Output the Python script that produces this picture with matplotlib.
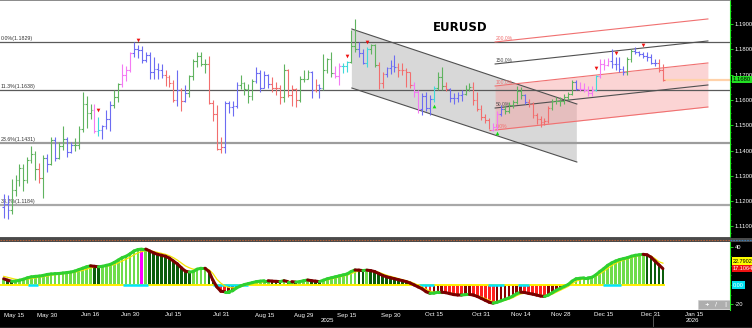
import numpy as np
import pandas as pd
import matplotlib
matplotlib.use("Agg")
import matplotlib.pyplot as plt
from matplotlib.collections import LineCollection
from matplotlib.patches import Polygon, Rectangle
from matplotlib.lines import Line2D
import matplotlib.transforms as mtrans
from matplotlib import font_manager

plt.rcParams['font.family'] = ['DejaVu Sans']
_names = {f.name for f in font_manager.fontManager.ttflist}
NARROW = "Liberation Sans Narrow" if "Liberation Sans Narrow" in _names else "Liberation Sans"

# ---------------- data ----------------
dates = pd.bdate_range("2025-05-15", "2026-01-05")

# prices in pips above 1.1000
opens = [178,187,163,243,284,330,283,364,386,326,
         290,370,347,443,372,418,447,396,420,423,
         487,585,550,562,478,480,495,523,580,610,
         663,700,718,787,803,797,758,777,709,723,
         719,700,689,667,598,639,596,626,693,754,
         772,740,740,588,545,406,415,587,572,574,
         660,666,643,615,675,705,648,700,662,649,
         648,610,718,621,643,599,682,684,710,641,
         660,646,719,760,707,696,733,734,748,812,
         802,785,745,803,817,738,665,703,727,733,
         729,717,718,711,658,630,565,617,569,604,
         646,690,655,643,606,609,618,624,644,653,
         601,565,534,520,481,493,546,564,558,581,
         590,634,620,593,582,539,525,512,518,569,
         596,597,597,610,625,670,645,643,640,627,
         640,694,740,739,752,743,740,723,709,760,
         792,790,780,772,771,745,746,718]
highs = [230,226,287,302,346,346,375,419,397,350,
         384,385,454,455,434,496,452,433,448,497,
         631,614,582,584,532,499,562,596,641,668,
         742,733,789,829,817,815,790,789,768,745,
         741,718,697,680,720,646,660,700,760,788,
         789,762,772,600,580,455,597,597,596,672,
         699,672,662,683,730,718,716,703,692,669,
         658,742,722,660,646,696,717,720,714,684,
         662,781,764,790,736,745,747,755,878,918,
         830,800,810,820,820,748,710,732,756,779,
         744,745,728,712,669,639,628,630,618,655,
         710,729,672,648,626,630,639,658,668,670,
         630,580,545,530,510,555,580,580,590,600,
         655,653,625,605,590,550,537,530,575,605,
         610,610,625,630,680,680,670,665,655,655,
         700,763,760,766,800,770,770,733,768,800,
         808,795,790,790,780,760,760,740]
lows = [133,130,150,220,260,241,273,349,283,273,
        212,317,344,358,365,403,374,389,400,407,
        472,489,525,470,459,445,484,476,569,592,
        653,674,709,770,764,746,750,683,683,683,
        686,656,650,592,577,556,590,610,680,730,
        735,707,583,518,401,391,391,550,535,568,
        643,621,589,600,668,630,648,649,630,618,
        583,593,612,574,573,593,670,682,607,630,
        608,640,706,690,688,660,708,712,745,790,
        770,740,730,780,730,645,646,692,704,710,
        690,700,650,646,610,550,541,555,542,590,
        640,640,635,590,585,590,596,620,635,580,
        555,520,510,485,478,482,535,545,548,570,
        585,605,585,572,530,505,491,500,510,560,
        585,575,585,600,618,640,635,632,614,615,
        635,685,720,735,725,720,712,700,700,750,
        780,775,765,755,740,735,710,675]
closes = [187,163,243,284,330,283,364,386,326,290,
          370,347,443,372,418,447,396,420,423,487,
          585,550,562,478,480,495,523,580,610,663,
          700,718,787,803,797,758,777,709,723,719,
          700,689,667,598,639,596,626,693,754,772,
          740,740,588,545,406,415,587,572,574,660,
          666,643,615,675,705,648,700,662,649,648,
          610,718,621,643,599,682,684,710,641,660,
          646,719,760,707,696,733,734,748,812,802,
          785,745,803,817,738,665,703,727,733,729,
          717,718,711,658,630,565,617,569,604,646,
          690,655,643,606,609,618,624,644,653,601,
          565,534,520,481,493,546,564,558,581,590,
          634,620,593,582,539,525,512,518,569,596,
          597,597,610,625,670,645,643,640,627,640,
          694,740,739,752,743,740,723,709,760,792,
          790,780,772,771,745,746,718,680]
bar_codes = ("bbgggggggr" "gbgbggbbgg" "gggmcbbbgg" "mmmbbbbbbb"
             "brrrbrbggg" "ggrrrrbbbb" "ggggbbbbrr" "rgrrrgggbr"
             "bgggmmccgg" "bbcggrrbbb" "rrrrmmbbbc" "ggrbbbbggr"
             "rrrrmmbggg" "ggbrrrrrrg" "gggggbmmmm" "cmmmbbbbgg"
             "bbbbbbrr")

sig_down_idx = [24, 34, 87, 92, 150, 155, 162]
sig_down_price = [1.1560, 1.1835, 1.1774, 1.1829, 1.1726, 1.1785, 1.1817]
sig_up_idx = [109, 125]
sig_up_price = [1.1576, 1.1469]

fib_levels = [1.1829, 1.1638, 1.1431, 1.1184]
fib_labels = ["0.0%(1.1829)", "11.3%(1.1638)", "23.6%(1.1431)", "38.2%(1.1184)"]

dch_x = [88.2, 145.2]
dch_top = [1.18802, 1.15838]
dch_bot = [1.16470, 1.13545]

fch_x = [124.5, 178.4]
fch_base = [1.1481, 1.1572]
fch_step = 0.0174
fch_ratios = [0.0, 0.5, 1.0, 1.5, 2.0]
fch_labels = ["0.0%", "50.0%", "100.0%", "150.0%", "200.0%"]

last_price = 1.1680

ind_main = [6.5,5,3.8,4,5,6,7.5,8.5,9,9.3,
            10,11,11.5,11.8,12,12.5,13,13.5,14.5,16,
            17.5,19,20,19.5,19,19.5,20.5,21.5,23.5,26,
            28.5,30,32.5,35.5,37,37.5,37.5,35.5,33.5,32,
            31,30,28,25,22,18,14.5,13.5,14,16.5,
            17.5,17.5,14,5,-2,-6.5,-7,-7,-6,-3,
            -1,0.5,1.5,2.5,3.5,4,4.5,4.5,4,3.8,
            3.5,4.5,3.5,3.5,3,3.5,4.5,5.2,4.5,4,
            3.5,5,6.5,7.5,8.5,9.5,10.5,11.5,14,15.7,
            15.5,15,15.5,15,14,12,10,8.5,7.5,6.5,
            5.5,4.5,3.5,2,0,-2,-4,-7,-8.7,-8.5,
            -7.5,-7.5,-8,-9,-10,-10.4,-10.5,-10,-9.8,-10.5,
            -12,-14,-16,-18,-19,-18,-16.5,-15,-13.5,-11.5,
            -9,-7.5,-7.8,-8.8,-9.5,-10.5,-11.5,-12,-10.5,-8,
            -5.5,-3.5,-1.5,0.5,4,6.5,7,7.5,7.5,8,
            10.5,14,17,20.5,23,25,26.5,27.5,28.5,30,
            31,31.5,32,31.5,29,25,21,17.1064]
ind_signal = [9,8,7,6,5.5,5.5,6,6.8,7.5,8,
              8.7,9.5,10.2,10.8,11.2,11.7,12.2,12.7,13.3,14.2,
              15.3,16.6,17.8,18.5,18.8,19,19.5,20.2,21.3,23,
              25,27,29,31.5,33.5,35,36,36,35,34,
              33,32,30.5,28.5,26,23,20,18,16.5,16.5,
              17,17,16,12,6,2,-1,-2.5,-3,-2.5,
              -1.5,-0.5,0.3,1.2,2,2.8,3.3,3.7,3.8,3.8,
              3.7,3.9,3.8,3.7,3.4,3.4,3.8,4.3,4.4,4.2,
              3.9,4.3,5.2,6.2,7.2,8.2,9.2,10.2,11.8,13.5,
              14.5,14.8,15,15,14.5,13.3,11.8,10.2,9,7.8,
              6.7,5.6,4.6,3.3,1.7,-0.2,-2.2,-4.5,-6.5,-7.5,
              -7.6,-7.5,-7.7,-8.3,-9.1,-9.8,-10.2,-10.1,-10,-10.2,
              -11,-12.5,-14.2,-16,-17.5,-17.7,-17.1,-16,-14.8,-13.2,
              -11,-9.3,-8.5,-8.6,-9,-9.8,-10.6,-11.3,-10.9,-9.5,
              -7.5,-5.5,-3.5,-1.5,1.3,3.9,5.4,6.4,7,7.5,
              9,11.5,14.3,17.4,20.2,22.6,24.5,26,27.2,28.6,
              29.8,30.6,31.3,31.4,30.2,27.6,24.3,22.7902]
cyan_start = [6.2, 30.2, 53.0, 105.2, 122.7, 130.3, 151.8]
cyan_end = [8.7, 36.6, 62.0, 109.0, 126.7, 133.1, 156.4]
magenta_bar = 35

tick_labels = ["May 15", "May 30", "Jun 16", "Jun 30", "Jul 15", "Jul 31",
               "Aug 15", "Aug 29", "Sep 15", "Sep 30", "Oct 15", "Oct 31",
               "Nov 14", "Nov 28", "Dec 15", "Dec 31", "Jan 15"]
tick_dates = ["2025-05-15", "2025-05-30", "2025-06-16", "2025-06-30", "2025-07-15",
              "2025-07-31", "2025-08-15", "2025-08-29", "2025-09-15", "2025-09-30",
              "2025-10-15", "2025-10-31", "2025-11-14", "2025-11-28", "2025-12-15",
              "2025-12-31", "2026-01-15"]

# ---------------- figure ----------------
W, H = 752, 328
def fy(py):
    return 1 - py / H

fig = plt.figure(figsize=(W / 100, H / 100), dpi=100, facecolor="black")
ax = fig.add_axes([0, fy(238), 730 / W, 238 / H])
ax2 = fig.add_axes([0, fy(310), 730 / W, 68 / H])
for a in (ax, ax2):
    a.set_facecolor("white")
    a.set_xlim(-0.937, 184.0)
ax.set_ylim(1.10542, 1.19949)
ax2.set_ylim(-26.1, 44.9)

x = np.arange(len(closes))
o = 1.1 + np.array(opens) / 1e4
h = 1.1 + np.array(highs) / 1e4
l = 1.1 + np.array(lows) / 1e4
c = 1.1 + np.array(closes) / 1e4

# fib horizontals
fib_styles = [("#5a5a5a", 0.9), ("#5a5a5a", 0.9), ("#9c9c9c", 1.6), ("#a8a8a8", 1.6)]
for lev, lab, (col, lw) in zip(fib_levels, fib_labels, fib_styles):
    ax.axhline(lev, color=col, lw=lw, zorder=1)
    ax.text(0.6 / 730, lev + 0.0004, lab,
            transform=mtrans.blended_transform_factory(ax.transAxes, ax.transData),
            fontsize=3.8, family=NARROW, color="#333333", ha="left", va="bottom", zorder=2)

# descending gray channel
poly = Polygon([(dch_x[0], dch_top[0]), (dch_x[1], dch_top[1]),
                (dch_x[1], dch_bot[1]), (dch_x[0], dch_bot[0])],
               closed=True, facecolor="#d8d8d8", edgecolor="none", zorder=0.5)
ax.add_patch(poly)
ax.plot(dch_x, dch_top, color="#505050", lw=0.8, zorder=1.5)
ax.plot(dch_x, dch_bot, color="#505050", lw=0.8, zorder=1.5)

# fib channel
fch_x = np.array(fch_x)
fch_base = np.array(fch_base)
ax.fill_between(fch_x, fch_base, fch_base + fch_step, color="#f7a0a0", alpha=0.45,
                lw=0, zorder=0.6)
for r, lab in zip(fch_ratios, fch_labels):
    col = "#f07070" if r in (0.0, 1.0, 2.0) else "#505050"
    yv = fch_base + r * fch_step
    ax.plot(fch_x, yv, color=col, lw=0.8, zorder=1.6)
    ax.text(fch_x[0] + 0.1, yv[0] + 0.0004, lab, fontsize=3.6, family=NARROW, color=col,
            ha="left", va="bottom", zorder=2)

# last price line
ax.plot([x[-1] + 0.4, 184.0], [last_price, last_price], color="#ffd2aa", lw=1.6, zorder=1.7)

# OHLC bars
cmap = {"g": "#5fb35f", "r": "#f26e6e", "b": "#6c6cf2", "m": "#f47af4", "c": "#3fd9d9"}
cols = [cmap[k] for k in bar_codes]
ax.vlines(x, l, h, colors=cols, lw=0.8, zorder=3)
ax.hlines(o, x - 0.45, x, colors=cols, lw=0.8, zorder=3)
ax.hlines(c, x, x + 0.45, colors=cols, lw=0.8, zorder=3)

ax.scatter(sig_down_idx, sig_down_price, marker="v", s=7, color="#ee1111", lw=0, zorder=4)
ax.scatter(sig_up_idx, sig_up_price, marker="^", s=7, color="#11dd11", lw=0, zorder=4)

ax.text(460 / 730, 1 - 27.5 / 238, "EURUSD", transform=ax.transAxes, fontsize=8.5,
        fontweight="bold", color="black", ha="center", va="center")

# axes styling main
ax.set_xticks([])
ax.yaxis.tick_right()
yt = np.round(np.arange(1.11, 1.19001, 0.01), 2)
ax.set_yticks(yt)
ax.set_yticklabels([f"{v:.4f}" for v in yt], family=NARROW)
ax.set_yticks(np.arange(1.1075, 1.1990, 0.0025), minor=True)
ax.tick_params(axis="y", which="major", colors="#22ee22", labelcolor="white",
               labelsize=4.2, length=2, width=0.6, pad=1.5)
ax.tick_params(axis="y", which="minor", colors="#22ee22", length=1, width=0.5)
ax.spines["left"].set_visible(False)
ax.spines["right"].set_color("#22ee22")
ax.spines["right"].set_linewidth(0.8)
ax.spines["top"].set_color("#777777")
ax.spines["top"].set_linewidth(1.2)
ax.spines["bottom"].set_color("#333333")
ax.spines["bottom"].set_linewidth(1.2)

blend_y = mtrans.blended_transform_factory(ax.transAxes, ax.transData)
ax.text(1.004, last_price, "1.1680", transform=blend_y, fontsize=4.2, family=NARROW,
        color="black", ha="left", va="center", zorder=10, clip_on=False,
        bbox=dict(boxstyle="square,pad=0.2", fc="#22e022", ec="none"))

# separator band
fig.patches.append(Rectangle((0, fy(242)), 1, 4 / H, transform=fig.transFigure,
                             facecolor="#4a4a4a", edgecolor="none"))
fig.add_artist(Line2D([0, 730 / W], [fy(240), fy(240)], transform=fig.transFigure,
                      color="#b0603a", lw=0.8, ls=(0, (1.5, 1))))
fig.add_artist(Line2D([730 / W, 1], [fy(240), fy(240)], transform=fig.transFigure,
                      color="#3a7ab0", lw=0.8, ls=(0, (1.5, 1))))

# ---------------- indicator ----------------
m = np.array(ind_main)
s = np.array(ind_signal)
xi = np.arange(len(m))
rising = np.r_[True, m[1:] >= m[:-1]]
hist_cols = []
for k in range(len(m)):
    if m[k] >= 0:
        hist_cols.append("#6fdc4a" if rising[k] else "#0b5e0b")
    else:
        hist_cols.append("#8b0000" if rising[k] else "#ff2020")
hist_cols[magenta_bar] = "#ff00ff"
ax2.bar(xi, m, width=0.7, color=hist_cols, lw=0, zorder=1)
ax2.plot([-0.937, xi[-1] + 0.3], [0, 0], color="#ffee00", lw=1.4, zorder=2)
for a0, a1 in zip(cyan_start, cyan_end):
    ax2.plot([a0, a1], [0, 0], color="#00e5ff", lw=1.8, zorder=3, solid_capstyle="butt")
ax2.plot(xi, s, color="#f5e600", lw=0.9, zorder=4)
segs = [[(xi[k], m[k]), (xi[k + 1], m[k + 1])] for k in range(len(m) - 1)]
seg_cols = ["#2fd02f" if m[k + 1] >= m[k] else "#7a0000" for k in range(len(m) - 1)]
ax2.add_collection(LineCollection(segs, colors=seg_cols, linewidths=2.2, zorder=5,
                                  capstyle="round"))

full_days = pd.bdate_range("2025-05-15", "2026-01-30")
tick_idx = [full_days.get_loc(pd.Timestamp(d)) for d in tick_dates]
ax2.set_xticks(tick_idx)
ax2.set_xticklabels(tick_labels, family=NARROW)
ax2.tick_params(axis="x", colors="white", labelsize=4.4, length=0, pad=1.8)
ax2.get_xticklabels()[0].set_horizontalalignment("left")
ax2.yaxis.tick_right()
ax2.set_yticks([40, -20])
ax2.set_yticklabels(["40", "-20"], family=NARROW)
ax2.set_yticks([20, 0, -10, 10, 30], minor=True)
ax2.tick_params(axis="y", which="major", colors="#22ee22", labelcolor="white",
                labelsize=4.2, length=2, width=0.6, pad=1.5)
ax2.tick_params(axis="y", which="minor", colors="#22ee22", length=1, width=0.5)
for sp in ("left", "top", "bottom"):
    ax2.spines[sp].set_visible(False)
ax2.spines["right"].set_color("#22ee22")
ax2.spines["right"].set_linewidth(0.8)

blend2 = mtrans.blended_transform_factory(ax2.transAxes, ax2.transData)
ax2.text(1.004, 25.0, f"{ind_signal[-1]:.4f}", transform=blend2, fontsize=4.0, family=NARROW,
         color="black", ha="left", va="center", clip_on=False, zorder=10,
         bbox=dict(boxstyle="square,pad=0.2", fc="#ffff00", ec="none"))
ax2.text(1.004, 17.1, f"{ind_main[-1]:.4f}", transform=blend2, fontsize=4.0, family=NARROW,
         color="white", ha="left", va="center", clip_on=False, zorder=10,
         bbox=dict(boxstyle="square,pad=0.2", fc="#ee1111", ec="none"))
ax2.text(1.004, 0.0, "0.00", transform=blend2, fontsize=4.0, family=NARROW, color="white",
         ha="left", va="center", clip_on=False, zorder=10,
         bbox=dict(boxstyle="square,pad=0.25", fc="#00e0f0", ec="none"))

# small toolbar box
ax2.add_patch(Rectangle((698 / 730, 0.02), 32 / 730, 0.13, transform=ax2.transAxes,
                        facecolor="#aeaeae", edgecolor="#cccccc", lw=0.4, zorder=11))
for px, g in zip([707, 716, 725], ["+", "/", "|"]):
    ax2.text(px / 730, 0.085, g, transform=ax2.transAxes, fontsize=4, color="white",
             ha="center", va="center", zorder=12, fontweight="bold")

# year labels and separator
bt = mtrans.blended_transform_factory(ax2.transData, fig.transFigure)
fig.text(82, fy(321), "2025", transform=bt, fontsize=4.4, family=NARROW, color="white",
         ha="center", va="center")
fig.text(174.5, fy(321), "2026", transform=bt, fontsize=4.4, family=NARROW, color="white",
         ha="center", va="center")
fig.add_artist(Line2D([164.4, 164.4], [fy(316), fy(326)], transform=bt, color="#666666", lw=0.6))
fig.add_artist(Line2D([0, 1], [fy(327), fy(327)], transform=fig.transFigure, color="#222222", lw=0.8))

fig.savefig("out.png", dpi=100, facecolor="black")
